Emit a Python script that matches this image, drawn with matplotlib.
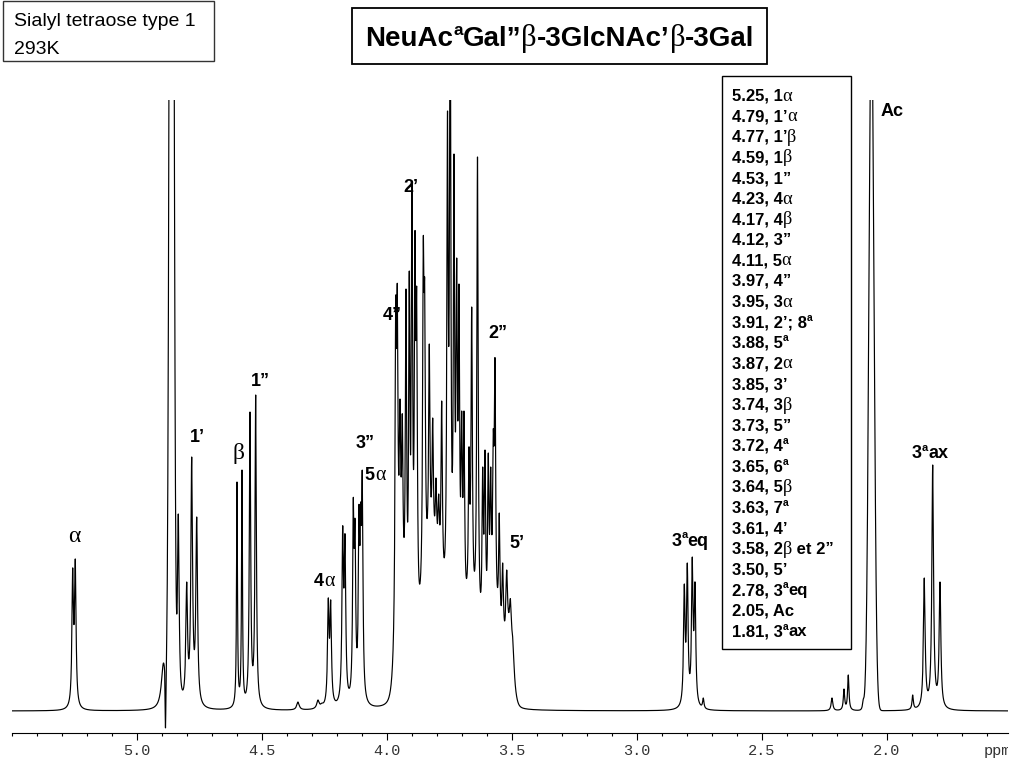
import numpy as np
import matplotlib
matplotlib.use("Agg")
import matplotlib.pyplot as plt
from matplotlib.patches import Rectangle
from matplotlib.transforms import Bbox, TransformedBbox
from matplotlib.ticker import MultipleLocator, FixedLocator

W, H = 1024, 768

# ---------------- data ----------------
# resolved lines of the 1H spectrum: shift (ppm), apparent height, half-width (ppm)
line_ppm = [5.2560, 5.2456, 4.8928, 4.8336, 4.8000, 4.7800, 4.7600,
            4.5988, 4.5788, 4.5468, 4.5240, 4.3548, 4.2748, 4.2588,
            4.2336, 4.2240, 4.1760, 4.1668, 4.1336, 4.1268, 4.1108, 4.1040, 4.0976, 4.0736,
            3.9640, 3.9576, 3.9468, 3.9376, 3.9228, 3.9096, 3.8988, 3.8868, 3.8800,
            3.8536, 3.8480, 3.8296, 3.8160, 3.8028, 3.7920, 3.7800, 3.7568, 3.7460,
            3.7308, 3.7200, 3.7108, 3.7000, 3.6908, 3.6708, 3.6600, 3.6368, 3.6160,
            3.6068, 3.5936, 3.5840, 3.5736, 3.5668, 3.5496, 3.5360, 3.5200, 3.5048, 3.4948,
            2.8096, 2.7976, 2.7776, 2.7668, 2.7336,
            2.2188, 2.1708, 2.1536, 2.0936, 2.0348, 1.8960,
            1.8496, 1.8160, 1.7868]
line_height = [143, 152, 48, 197, 129, 254, 194,
               229, 241, 299, 316, 9, 11, 8,
               113, 111, 185, 177, 213, 192, 206, 209, 240, 9,
               413, 427, 312, 297, 422, 440, 530, 480, 423,
               473, 430, 367, 293, 233, 217, 310, 600, 760,
               557, 453, 427, 300, 300, 264, 404, 554, 244,
               261, 258, 244, 281, 353, 198, 148, 141, 112, 70,
               127, 148, 154, 129, 13,
               13, 22, 36, 12, 20, 16,
               133, 246, 129]
line_hwhm = [0.0036, 0.0036, 0.0100, 0.0040, 0.0040, 0.0040, 0.0040,
             0.0022, 0.0022, 0.0032, 0.0032, 0.0060, 0.0060, 0.0060,
             0.0036, 0.0036, 0.0036, 0.0036, 0.0032, 0.0032, 0.0032, 0.0032, 0.0032, 0.0040,
             0.0032, 0.0032, 0.0032, 0.0032, 0.0032, 0.0032, 0.0032, 0.0032, 0.0032,
             0.0032, 0.0032, 0.0032, 0.0032, 0.0032, 0.0032, 0.0032, 0.0032, 0.0032,
             0.0032, 0.0032, 0.0032, 0.0032, 0.0032, 0.0032, 0.0032, 0.0032, 0.0032,
             0.0032, 0.0032, 0.0032, 0.0032, 0.0032, 0.0032, 0.0036, 0.0040, 0.0048, 0.0048,
             0.0036, 0.0036, 0.0036, 0.0036, 0.0032,
             0.0040, 0.0032, 0.0032, 0.0040, 0.0080, 0.0032,
             0.0040, 0.0040, 0.0040]

# saturated / broad components: HDO, acetyl, water artefact, sugar envelope
broad_ppm = [4.8604, 2.0608, 4.8848, 3.9452, 3.8132, 3.6668, 3.5668, 3.5092]
broad_height = [1700, 710, -55, 100, 140, 80, 70, 50]
broad_sigma = [0.00744, 0.0100, 0.0014, 0.016, 0.044, 0.036, 0.032, 0.014]

# assignment table
shift_values = [5.25, 4.79, 4.77, 4.59, 4.53, 4.23, 4.17, 4.12, 4.11, 3.97, 3.95, 3.91, 3.88,
                3.87, 3.85, 3.74, 3.73, 3.72, 3.65, 3.64, 3.63, 3.61, 3.58, 3.50, 2.78, 2.05, 1.81]
assignments = ["1α", "1’α", "1’β", "1β", "1”", "4α", "4β", "3”", "5α", "4”", "3α", "2’; 8^a", "5^a",
               "2α", "3’", "3β", "5”", "4^a", "6^a", "5β", "7^a", "4’", "2β et 2”", "5’", "3^aeq", "Ac", "3^aax"]

# peak labels on the trace
peak_labels = ["α", "1’", "β", "1”", "4α", "3”", "5α", "2’", "4”", "2”", "5’", "3^aeq", "Ac", "3^aax"]
title_text = "NeuAc^aGal”β-3GlcNAc’β-3Gal"
sample_lines = ["Sialyl tetraose type 1", "293K"]
major_ticks = [5.0, 4.5, 4.0, 3.5, 3.0, 2.5, 2.0]
tick_labels = ["5.0", "4.5", "4.0", "3.5", "3.0", "2.5", "2.0"]

# ---------------- layout (pixels) ----------------
label_pos = [(74, 536), (197, 436), (238, 453), (260, 379), (324, 579), (365, 442), (375, 474),
             (411, 186), (392, 314), (498, 332), (517, 541), (690, 539), (892, 110), (930, 452)]

# ---------------- spectrum ----------------
def lor(x, c, g):
    return g ** 2 / ((x - c) ** 2 + g ** 2)

def gau(x, c, s):
    return np.exp(-0.5 * ((x - c) / s) ** 2)

def broad(x):
    out = np.zeros_like(x, dtype=float)
    for c, h, s in zip(broad_ppm, broad_height, broad_sigma):
        out += h * gau(x, c, s)
    return out

lp = np.array(line_ppm); lh = np.array(line_height, float); lw = np.array(line_hwhm)
A = lor(lp[:, None], lp[None, :], lw[None, :])
target = lh - broad(lp)
active = np.ones(len(lp), bool)
amp = np.zeros(len(lp))
for _ in range(60):
    idx = np.where(active)[0]
    sol = np.linalg.lstsq(A[np.ix_(idx, idx)], target[idx], rcond=None)[0]
    amp[:] = 0
    amp[idx] = sol
    if (sol >= 0).all():
        break
    active[idx[sol < 0]] = False
amp = np.clip(amp, 0, None)

ppm = np.arange(1.5, 5.5, 0.0002)
spec = broad(ppm) + (amp[None, :] * lor(ppm[:, None], lp[None, :], lw[None, :])).sum(axis=1)

# ---------------- figure ----------------
fig = plt.figure(figsize=(10.24, 7.68), dpi=100)
fig.patch.set_facecolor("white")
renderer = fig.canvas.get_renderer()

x_left_ppm, x_right_ppm = 5.5, 1.5148
ax_l, ax_r, ax_t, ax_b = 11.7, 1008, 100, 733
ax = fig.add_axes([ax_l / W, (H - ax_b) / H, (ax_r - ax_l) / W, (ax_b - ax_t) / H])
ax.plot(ppm, spec, color="black", lw=0.85)
ax.set_xlim(x_left_ppm, x_right_ppm)
ax.set_ylim(-22, 611)
for s in ["top", "left", "right"]:
    ax.spines[s].set_visible(False)
ax.spines["bottom"].set_linewidth(0.8)
ax.set_yticks([])
ax.xaxis.set_major_locator(FixedLocator(major_ticks))
ax.xaxis.set_minor_locator(MultipleLocator(0.1))
ax.set_xticklabels(tick_labels, fontfamily="Liberation Mono", fontsize=11, color="#333333")
ax.tick_params(axis="x", which="major", direction="out", length=5, width=0.8, pad=3)
ax.tick_params(axis="x", which="minor", direction="out", length=2.5, width=0.8)
ax.set_facecolor("none")

def P(x, y):
    return x / W, 1 - y / H

ppm_t = fig.text(*P(984, 751), "ppm", fontfamily="Liberation Mono", fontsize=11,
                 color="#333333", ha="left", va="center")
ppm_t.set_clip_box(TransformedBbox(Bbox([[0, 0], [1008 / W, 1]]), fig.transFigure))
ppm_t.set_clip_on(True)

BOLD = dict(family="Liberation Sans", weight="bold")
GREEK = dict(family="Liberation Serif", weight="normal")

def split_runs(s):
    runs, buf, i = [], "", 0
    while i < len(s):
        if s.startswith("^a", i):
            if buf:
                runs.append((buf, "n")); buf = ""
            runs.append(("a", "s")); i += 2
        elif s[i] in "αβ":
            if buf:
                runs.append((buf, "n")); buf = ""
            runs.append((s[i], "g")); i += 1
        else:
            buf += s[i]; i += 1
    if buf:
        runs.append((buf, "n"))
    return runs

def width_of(s, props, size):
    t1 = fig.text(0, 0, "|" + s + "|", fontsize=size, **props)
    t2 = fig.text(0, 0, "||", fontsize=size, **props)
    w = t1.get_window_extent(renderer).width - t2.get_window_extent(renderer).width
    t1.remove(); t2.remove()
    return w

def rich(x, yc, s, size, ha="left", greek_scale=1.1):
    runs = split_runs(s)
    spx = size * 100 / 72
    specs = []
    for r, k in runs:
        if k == "n":
            specs.append((r, BOLD, size, 0))
        elif k == "g":
            specs.append((r, GREEK, size * greek_scale, 0))
        else:
            specs.append((r, BOLD, size * 0.62, 0.40 * spx))
    widths = [width_of(r, p, sz) for r, p, sz, _ in specs]
    total = sum(widths)
    cur = x if ha == "left" else x - total / 2
    base = yc + 0.36 * spx
    for (r, p, sz, dy), w in zip(specs, widths):
        fig.text(*P(cur, base - dy), r, fontsize=sz, ha="left", va="baseline", **p)
        cur += w
    return total

# sample box
fig.add_artist(Rectangle(P(2.5, 60.5), 211.5 / W, 59.5 / H, transform=fig.transFigure,
                         fill=False, ec="#333333", lw=1.0))
fig.text(*P(14, 22), sample_lines[0], fontfamily="Liberation Sans", fontsize=14, va="center")
fig.text(*P(14, 49), sample_lines[1], fontfamily="Liberation Sans", fontsize=14, va="center")

# title box
fig.add_artist(Rectangle(P(352, 64), 415 / W, 56 / H, transform=fig.transFigure,
                         fill=False, ec="black", lw=1.3))
rich(560, 36, title_text, 20, ha="center")

# assignment table
fig.add_artist(Rectangle(P(722, 649), 129 / W, 573 / H, transform=fig.transFigure,
                         fill=False, ec="black", lw=1.0))
for i, (v, a) in enumerate(zip(shift_values, assignments)):
    rich(731.7, 94.6 + i * 20.6, f"{v:.2f}, {a}", 12)

# peak labels
for lab, (x, y) in zip(peak_labels, label_pos):
    if lab in ("α", "β"):
        fig.text(*P(x, y), lab, fontsize=17, ha="center", va="center", **GREEK)
    else:
        rich(x, y, lab, 13, ha="center")

fig.savefig("out.png", dpi=100)
